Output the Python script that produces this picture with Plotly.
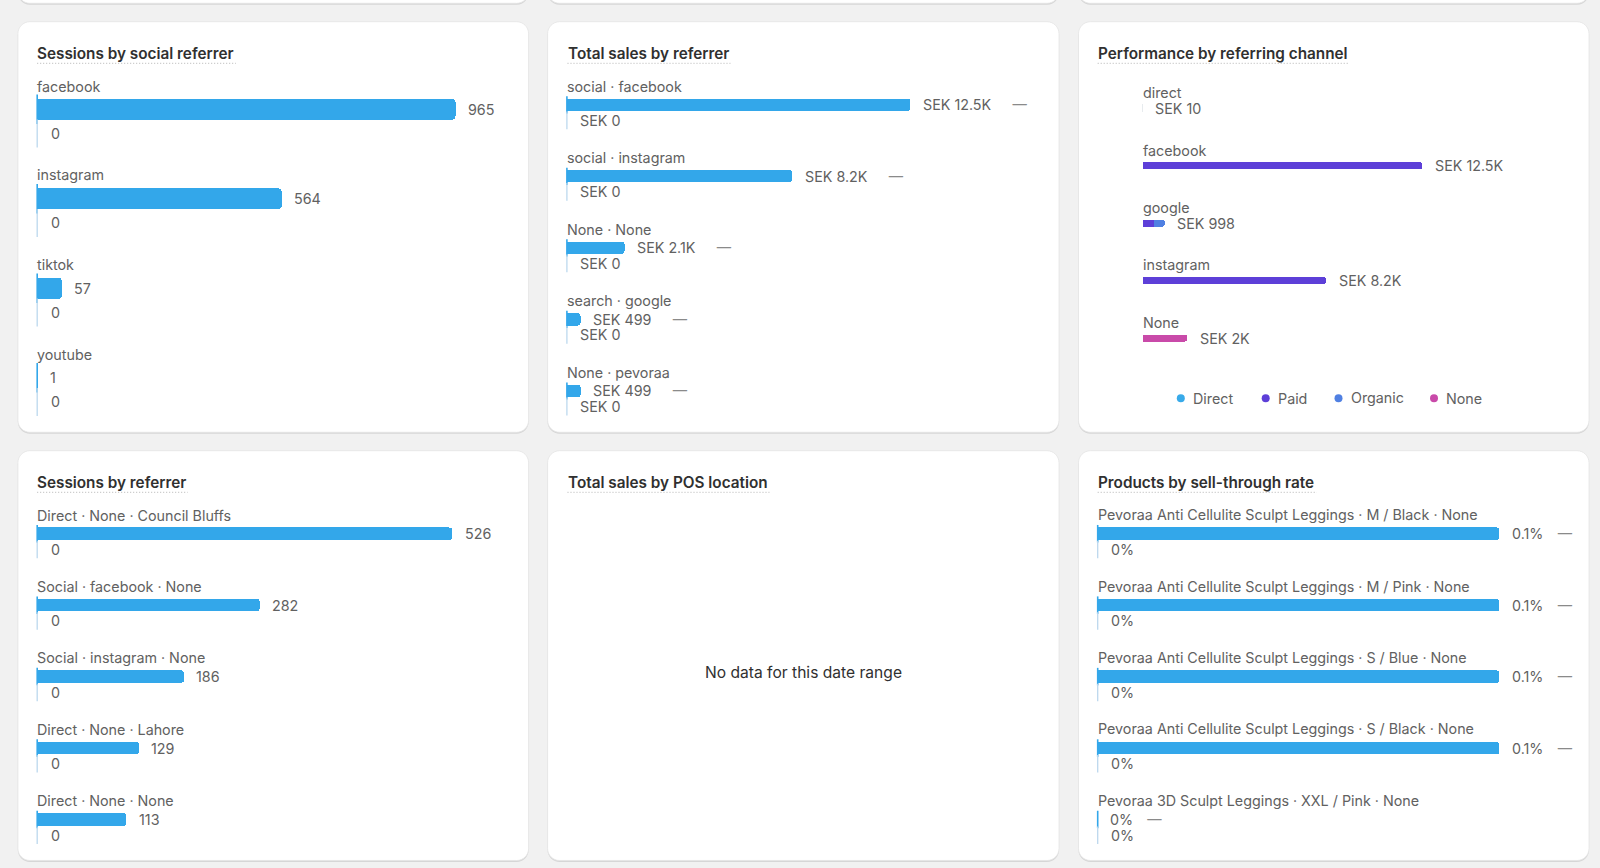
import plotly.graph_objects as go

# ------------------------------------------------------------------ data
social_referrers = ["facebook", "instagram", "tiktok", "youtube"]
social_sessions = [965, 564, 57, 1]
social_sessions_prev = [0, 0, 0, 0]
social_text = ["965", "564", "57", "1"]
social_prev_text = ["0", "0", "0", "0"]

sales_referrers = ["social · facebook", "social · instagram", "None · None",
                   "search · google", "None · pevoraa"]
sales_sek = [12500, 8200, 2100, 499, 499]
sales_sek_prev = [0, 0, 0, 0, 0]
sales_text = ["SEK 12.5K", "SEK 8.2K", "SEK 2.1K", "SEK 499", "SEK 499"]
sales_prev_text = ["SEK 0", "SEK 0", "SEK 0", "SEK 0", "SEK 0"]

channels = ["direct", "facebook", "google", "instagram", "None"]
channel_types = ["Direct", "Paid", "Organic", "None"]
channel_direct = [10, None, None, None, None]
channel_paid = [None, 12500, 499, 8200, None]
channel_organic = [None, None, 499, None, None]
channel_none = [None, None, None, None, 2000]
channel_text = ["SEK 10", "SEK 12.5K", "SEK 998", "SEK 8.2K", "SEK 2K"]

referrers = ["Direct · None · Council Bluffs", "Social · facebook · None",
             "Social · instagram · None", "Direct · None · Lahore",
             "Direct · None · None"]
referrer_sessions = [526, 282, 186, 129, 113]
referrer_sessions_prev = [0, 0, 0, 0, 0]
referrer_text = ["526", "282", "186", "129", "113"]
referrer_prev_text = ["0", "0", "0", "0", "0"]

products = ["Pevoraa Anti Cellulite Sculpt Leggings · M / Black · None",
            "Pevoraa Anti Cellulite Sculpt Leggings · M / Pink · None",
            "Pevoraa Anti Cellulite Sculpt Leggings · S / Blue · None",
            "Pevoraa Anti Cellulite Sculpt Leggings · S / Black · None",
            "Pevoraa 3D Sculpt Leggings · XXL / Pink · None"]
sell_through = [0.1, 0.1, 0.1, 0.1, 0.0]
sell_through_prev = [0.0, 0.0, 0.0, 0.0, 0.0]
sell_through_text = ["0.1%", "0.1%", "0.1%", "0.1%", "0%"]
sell_through_prev_text = ["0%", "0%", "0%", "0%", "0%"]

titles = ["Sessions by social referrer", "Total sales by referrer",
          "Performance by referring channel", "Sessions by referrer",
          "Total sales by POS location", "Products by sell-through rate"]
no_data_text = "No data for this date range"

# ------------------------------------------------------------------ style
W, H = 1600, 868
BG = "#f1f1f1"
BLUE = "#33a7ea"
TICK = "#bcd8ee"
GRAY = "#616161"
DARK = "#303030"
DASHC = "#8a8a8a"
FONT = "Inter, 'Noto Sans', sans-serif"
FS = 14.3
type_colors = {"Direct": "#38aae9", "Paid": "#5d3fd8",
               "Organic": "#5080e2", "None": "#c94aa9"}


def px(x):
    return x / W


def py(y):
    return 1 - y / H


def rrect(x0, y0, x1, y1, r):
    c = r * 0.4477
    P = lambda x, y: f"{px(x):.6f},{py(y):.6f}"
    return (f"M{P(x0 + r, y0)} L{P(x1 - r, y0)} "
            f"C{P(x1 - c, y0)} {P(x1, y0 + c)} {P(x1, y0 + r)} "
            f"L{P(x1, y1 - r)} C{P(x1, y1 - c)} {P(x1 - c, y1)} {P(x1 - r, y1)} "
            f"L{P(x0 + r, y1)} C{P(x0 + c, y1)} {P(x0, y1 - c)} {P(x0, y1 - r)} "
            f"L{P(x0, y0 + r)} C{P(x0, y0 + c)} {P(x0 + c, y0)} {P(x0 + r, y0)} Z")


fig = go.Figure()
shapes = []
ann = []

# ------------------------------------------------------------------ cards
cols = [(17.9, 528.6), (547.6, 1059.0), (1078.5, 1589.0)]
rows_px = [(-40, 3.3), (21.7, 432.3), (450.7, 860.5)]
for (y0, y1) in rows_px:
    for (x0, x1) in cols:
        shapes.append(dict(type="path", path=rrect(x0, y0 + 1.5, x1, y1 + 1.5, 12),
                           xref="paper", yref="paper", fillcolor="#d6d6d6",
                           line=dict(width=0), layer="below"))
        shapes.append(dict(type="path", path=rrect(x0, y0, x1, y1, 12),
                           xref="paper", yref="paper", fillcolor="#ffffff",
                           line=dict(width=0.8, color="#e4e4e4"), layer="below"))

# titles with dotted underline
title_geom = [(37.2, 53.3, 235.9), (567.5, 53.3, 730.4), (1097.7, 53.3, 1348.9),
              (37.2, 482.3, 187.7), (567.5, 482.3, 769.4), (1097.7, 482.3, 1316.8)]
for t, (tx, ty, tx1) in zip(titles, title_geom):
    ann.append(dict(text=t, x=px(tx), y=py(ty), xref="paper", yref="paper",
                    xanchor="left", yanchor="middle", showarrow=False,
                    borderpad=0, borderwidth=0,
                    font=dict(family=FONT, size=15.3, color=DARK, weight=600)))
    shapes.append(dict(type="line", xref="paper", yref="paper",
                       x0=px(tx), x1=px(tx1), y0=py(ty + 10), y1=py(ty + 10),
                       line=dict(color="#b3b3b3", width=1, dash="1px,2px")))


def axname(i):
    return "" if i == 1 else str(i)


def setup_axes(i, x0, x1, k, c0, pitch, n):
    ytop = c0 - pitch / 2
    ybot = ytop + n * pitch
    fig.layout["xaxis" + axname(i)] = dict(
        domain=[px(x0), px(x1)], range=[0, (x1 - x0) / k], visible=False,
        fixedrange=True, anchor="y" + axname(i))
    fig.layout["yaxis" + axname(i)] = dict(
        domain=[py(ybot), py(ytop)], range=[n - 0.5, -0.5], visible=False,
        fixedrange=True, anchor="x" + axname(i))


def text(i, x, y, s, xshift=0, size=FS, color=GRAY):
    ann.append(dict(text=s, x=x, y=y, xref="x" + axname(i), yref="y" + axname(i),
                    xanchor="left", yanchor="middle", showarrow=False,
                    xshift=xshift, borderpad=0, borderwidth=0,
                    font=dict(family=FONT, size=size, color=color)))


def bar_panel(i, cats, vals, prev, vals_text, prev_text, g, dash=None):
    n = len(cats)
    setup_axes(i, g["x0"], g["x1"], g["k"], g["c0"], g["pitch"], n)
    xa, ya = "x" + axname(i), "y" + axname(i)
    idx = list(range(n))
    toff = g["tick_off"] / g["pitch"]
    loff = g["label_off"] / g["pitch"]
    fig.add_trace(go.Bar(x=vals, y=idx, orientation="h", xaxis=xa, yaxis=ya,
                         width=g["bar_h"] / g["pitch"],
                         marker=dict(color=BLUE, cornerradius=g["r"], line=dict(width=0)),
                         hoverinfo="skip", showlegend=False))
    fig.add_trace(go.Scatter(x=[0] * n, y=idx, mode="markers", xaxis=xa, yaxis=ya,
                             marker=dict(symbol="line-ns", size=g["bar_h"],
                                         line=dict(width=1.6, color=BLUE)),
                             cliponaxis=False, hoverinfo="skip", showlegend=False))
    fig.add_trace(go.Scatter(x=prev, y=[j + toff for j in idx], mode="markers",
                             xaxis=xa, yaxis=ya,
                             marker=dict(symbol="line-ns", size=g["tick_h"],
                                         line=dict(width=1.3, color=TICK)),
                             cliponaxis=False, hoverinfo="skip", showlegend=False))
    for j in idx:
        text(i, 0, j + loff, cats[j])
        s = vals_text[j]
        if dash:
            s = s + f"<span style='color:{DASHC}'>{dash}—</span>"
        text(i, vals[j], j, s, xshift=12.5)
        text(i, prev[j], j + toff, prev_text[j], xshift=13.5)


# panel 1: sessions by social referrer
bar_panel(1, social_referrers, social_sessions, social_sessions_prev, social_text,
          social_prev_text,
          dict(x0=37.2, x1=510, k=(455.6 - 37.2) / 965, c0=109.3, pitch=89.47,
               bar_h=21, label_off=-23.3, tick_off=24.2, tick_h=20, r=4))

# panel 2: total sales by referrer
bar_panel(2, sales_referrers, sales_sek, sales_sek_prev, sales_text, sales_prev_text,
          dict(x0=566.9, x1=1040, k=(910.2 - 566.9) / 12500, c0=104.8, pitch=71.55,
               bar_h=12.3, label_off=-18.7, tick_off=15.5, tick_h=12.7, r=3),
          dash="\u2003\u2002")

# panel 3: performance by referring channel (stacked)
g3 = dict(x0=1142.5, x1=1570, k=(1422.3 - 1142.5) / 12500, c0=108.3, pitch=57.47)
n3 = len(channels)
setup_axes(3, g3["x0"], g3["x1"], g3["k"], g3["c0"], g3["pitch"], n3)
idx3 = list(range(n3))
for name, vals in zip(channel_types, [channel_direct, channel_paid,
                                      channel_organic, channel_none]):
    fig.add_trace(go.Bar(x=vals, y=idx3, orientation="h", xaxis="x3", yaxis="y3",
                         name=name, width=7 / g3["pitch"],
                         marker=dict(color=type_colors[name], cornerradius=3,
                                     line=dict(width=1 if name == "Direct" else 0,
                                               color="#cfd8de")),
                         hoverinfo="skip", showlegend=False))
totals3 = [sum(v for v in col if v is not None)
           for col in zip(channel_direct, channel_paid, channel_organic, channel_none)]
for j in idx3:
    text(3, 0, j - 15.7 / g3["pitch"], channels[j])
    text(3, totals3[j], j, channel_text[j], xshift=12.5)

# legend of panel 3
leg_dots = [1180.8, 1265.7, 1338.5, 1434.0]
for name, cx in zip(channel_types, leg_dots):
    cy = 398.3
    shapes.append(dict(type="circle", xref="paper", yref="paper",
                       x0=px(cx - 4), x1=px(cx + 4), y0=py(cy + 4), y1=py(cy - 4),
                       fillcolor=type_colors[name], line=dict(width=0)))
    ann.append(dict(text=name, x=px(cx + 12), y=py(cy), xref="paper", yref="paper",
                    xanchor="left", yanchor="middle", showarrow=False,
                    borderpad=0, borderwidth=0,
                    font=dict(family=FONT, size=FS, color=GRAY)))

# panel 4: sessions by referrer
bar_panel(4, referrers, referrer_sessions, referrer_sessions_prev, referrer_text,
          referrer_prev_text,
          dict(x0=37.2, x1=510, k=(452.1 - 37.2) / 526, c0=533.7, pitch=71.45,
               bar_h=12.5, label_off=-18.6, tick_off=15.8, tick_h=12.5, r=3))

# panel 5: no data
ann.append(dict(text=no_data_text, x=px(803.3), y=py(672.4), xref="paper", yref="paper",
                xanchor="center", yanchor="middle", showarrow=False,
                borderpad=0, borderwidth=0,
                font=dict(family=FONT, size=15.6, color=DARK)))

# panel 6: products by sell-through rate
bar_panel(6, products, sell_through, sell_through_prev, sell_through_text,
          sell_through_prev_text,
          dict(x0=1097.7, x1=1575, k=(1499.3 - 1097.7) / 0.1, c0=533.7, pitch=71.45,
               bar_h=12.5, label_off=-18.6, tick_off=15.8, tick_h=12.5, r=3),
          dash="\u2003")

fig.update_layout(
    width=W, height=H, margin=dict(l=0, r=0, t=0, b=0, pad=0),
    paper_bgcolor=BG, plot_bgcolor="rgba(0,0,0,0)",
    barmode="stack", showlegend=False,
    font=dict(family=FONT, size=FS, color=GRAY),
    shapes=shapes, annotations=ann,
)

fig.write_html("out.html", config={"displayModeBar": False})
